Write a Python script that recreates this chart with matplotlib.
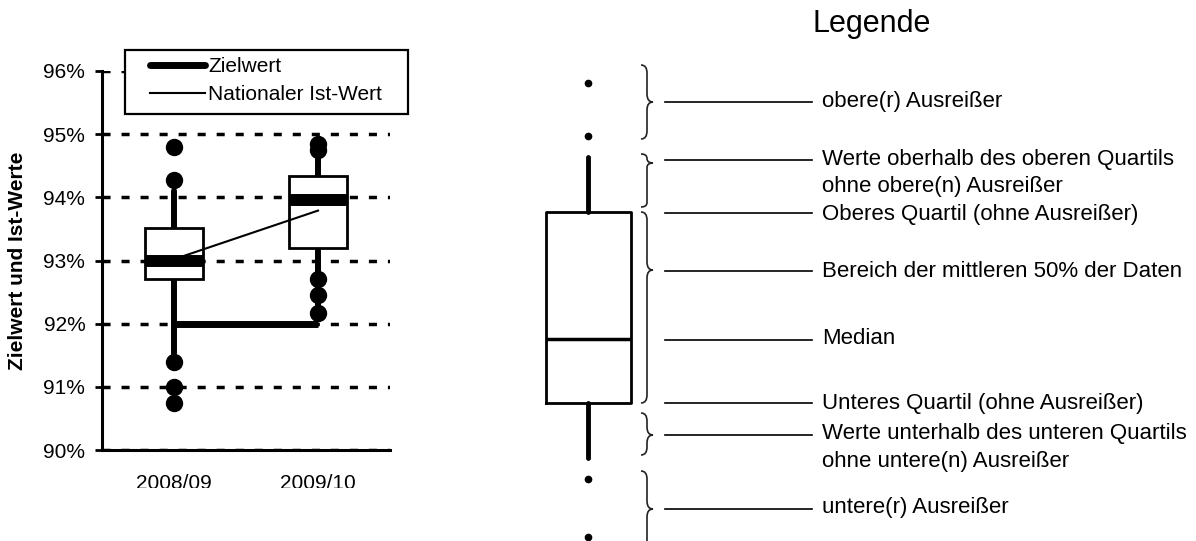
import matplotlib
matplotlib.use("Agg")
import matplotlib.pyplot as plt
from matplotlib.lines import Line2D
from matplotlib.patches import Rectangle, PathPatch
from matplotlib.path import Path
from matplotlib.transforms import Bbox, TransformedBbox
from matplotlib.ticker import FixedLocator, FuncFormatter

plt.rcParams['font.family'] = ['Liberation Sans', 'DejaVu Sans']
plt.rcParams['lines.scale_dashes'] = False

# Daten (in Prozent)
jahre = ['2008/09', '2009/10']
median = [93.0, 93.95]
q1 = [92.7, 93.2]
q3 = [93.52, 94.33]
whisker_unten = [91.42, 92.17]
whisker_oben = [94.1, 94.75]
ausreisser = [[94.28, 94.8, 91.4, 91.0, 90.75],
              [94.75, 94.84, 92.7, 92.45, 92.17]]
zielwert = [92.0, 92.0]
ist_wert = [93.02, 93.79]

# Schema der Legende (willkuerliche Einheiten)
leg_median = 4.42
leg_q1 = 3.14
leg_q3 = 6.96
leg_whislo = 2.04
leg_whishi = 8.06
leg_ausreisser = [9.54, 8.48, 1.62, 0.46]
# Klammern: (oben, unten, spitze)
klammern = [(9.9, 8.42, 9.16), (8.12, 7.06, 7.94), (6.96, 3.14, 5.8),
            (2.94, 2.1, 2.5), (1.78, 0.0, 1.02)]
hinweis_y = [9.16, 8.0, 6.94, 5.78, 4.4, 3.14, 2.5, 1.02]
texte = [('obere(r) Ausreißer', 9.16),
         ('Werte oberhalb des oberen Quartils', 8.0),
         ('ohne obere(n) Ausreißer', 7.46),
         ('Oberes Quartil (ohne Ausreißer)', 6.9),
         ('Bereich der mittleren 50% der Daten', 5.76),
         ('Median', 4.42),
         ('Unteres Quartil (ohne Ausreißer)', 3.14),
         ('Werte unterhalb des unteren Quartils', 2.54),
         ('ohne untere(n) Ausreißer', 1.96),
         ('untere(r) Ausreißer', 1.04)]

fig = plt.figure(figsize=(11.96, 5.41), dpi=100)

# ---------- linkes Diagramm ----------
ax = fig.add_axes([102 / 1196, 91 / 541, 288 / 1196, 379 / 541])
pos = [0.5, 1.5]
stats = []
for i in range(len(jahre)):
    stats.append(dict(med=median[i], q1=q1[i], q3=q3[i],
                      whislo=whisker_unten[i], whishi=whisker_oben[i],
                      fliers=ausreisser[i]))

bp = ax.bxp(stats, positions=pos, widths=0.4, patch_artist=True, showcaps=False,
            boxprops=dict(facecolor='white', edgecolor='black', linewidth=2),
            whiskerprops=dict(color='black', linewidth=4.3, solid_capstyle='round'),
            medianprops=dict(color='black', linewidth=8.6, solid_capstyle='butt'),
            flierprops=dict(marker='o', markerfacecolor='black',
                            markeredgecolor='black', markersize=11.5))
for b in bp['boxes']:
    b.set_zorder(2)
for w in bp['whiskers']:
    w.set_zorder(1.5)
for m in bp['medians']:
    m.set_zorder(4)
for f in bp['fliers']:
    f.set_zorder(4)

ax.plot(pos, ist_wert, color='black', linewidth=1.5, zorder=3)
ax.plot(pos, zielwert, color='black', linewidth=5, solid_capstyle='butt', zorder=3.5)

ax.set_xlim(0, 2)
ax.set_ylim(90, 96)
ax.yaxis.set_major_locator(FixedLocator([90, 91, 92, 93, 94, 95, 96]))
ax.yaxis.set_major_formatter(FuncFormatter(lambda v, p: '%d%%' % round(v)))
ax.yaxis.grid(True, color='black', linewidth=2.5, linestyle=(0, (5.8, 7.9)))
ax.set_axisbelow(True)
ax.set_xticks(pos)
ax.set_xticklabels(jahre)
ax.tick_params(axis='x', length=0, pad=17, labelsize=15)
ax.tick_params(axis='y', length=5, width=2, pad=7, labelsize=15, direction='out')
for s in ['top', 'right']:
    ax.spines[s].set_visible(False)
for s in ['left', 'bottom']:
    ax.spines[s].set_linewidth(2.2)

# Beschriftung unten abgeschnitten wie im Original
clip = TransformedBbox(Bbox([[-0.3, -0.1], [1.3, 1.3]]), ax.transAxes)
for lab in ax.get_xticklabels():
    lab.set_clip_box(clip)
    lab.set_clip_on(True)

ax.text(-0.2917, 0.5, 'Zielwert und Ist-Werte', transform=ax.transAxes,
        rotation=90, ha='center', va='center', fontsize=15, fontweight='bold')

rahmen = Rectangle((0.0799, 0.8865), 1.0625 - 0.0799, 1.0554 - 0.8865,
                   transform=ax.transAxes, facecolor='white', edgecolor='black',
                   linewidth=1.6, clip_on=False, zorder=5)
ax.add_patch(rahmen)
handles = [Line2D([], [], color='black', linewidth=5, solid_capstyle='round'),
           Line2D([], [], color='black', linewidth=1.5)]
leg = ax.legend(handles, ['Zielwert', 'Nationaler Ist-Wert'], loc='upper left',
                bbox_to_anchor=(0.1667, 1.037), frameon=False, borderpad=0,
                borderaxespad=0, handlelength=2.64, handletextpad=0.15,
                labelspacing=0.45, fontsize=15)
leg.set_zorder(6)

# ---------- Legende (Schema) ----------
ax2 = fig.add_axes([0, 0, 1, 1])
ax2.set_xlim(0, 1196)
ax2.set_ylim(0.38, 11.2)
ax2.axis('off')

leg_stats = [dict(med=leg_median, q1=leg_q1, q3=leg_q3, whislo=leg_whislo,
                  whishi=leg_whishi, fliers=leg_ausreisser)]
ax2.bxp(leg_stats, positions=[588], widths=85, showcaps=False,
        boxprops=dict(color='black', linewidth=2),
        whiskerprops=dict(color='black', linewidth=3.5, solid_capstyle='round'),
        medianprops=dict(color='black', linewidth=2.5),
        flierprops=dict(marker='o', markerfacecolor='black',
                        markeredgecolor='black', markersize=4.5))

for oben, unten, spitze in klammern:
    x0, x1, x2 = 641, 647, 653
    r = min(0.16, (oben - spitze) / 2, (spitze - unten) / 2)
    verts = [(x0, oben), (x1, oben), (x1, oben - r), (x1, spitze + r),
             (x1, spitze), (x2, spitze), (x1, spitze), (x1, spitze - r),
             (x1, unten + r), (x1, unten), (x0, unten)]
    codes = [Path.MOVETO, Path.CURVE3, Path.CURVE3, Path.LINETO,
             Path.CURVE3, Path.CURVE3, Path.CURVE3, Path.CURVE3,
             Path.LINETO, Path.CURVE3, Path.CURVE3]
    ax2.add_patch(PathPatch(Path(verts, codes), facecolor='none',
                            edgecolor='#222222', linewidth=1.2))

for y in hinweis_y:
    ax2.plot([665, 812], [y, y], color='black', linewidth=1.2)

for t, y in texte:
    ax2.text(822, y, t, ha='left', va='center', fontsize=16)

ax2.text(872, 10.56, 'Legende', ha='center', va='baseline', fontsize=22)

fig.savefig('out.png', dpi=100)
